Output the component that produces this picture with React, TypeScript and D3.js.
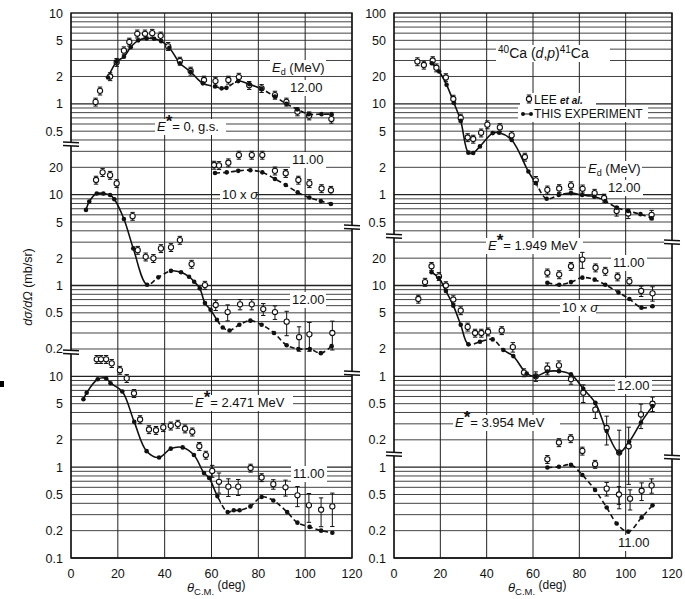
import React from 'react';
import * as d3 from 'd3';

// ---------------- DATA ----------------
// Left panel, top section: E* = 0 (g.s.), Ed = 12.00
const gs12LeeTheta = [10.5, 12.4, 16.7, 19.5, 22.6, 24.9, 28.3, 31.6, 34.7, 38.3, 41.5, 46.5, 51.1, 56.8, 61.7, 67.2, 71.7, 76.1, 81.4, 87.1, 92.0, 96.7, 101.7, 111.2];
const gs12LeeValue = [1.05, 1.39, 2.0, 2.87, 3.85, 4.8, 5.9, 5.9, 6.0, 5.6, 4.3, 2.96, 2.3, 1.83, 1.78, 1.83, 1.97, 1.6, 1.48, 1.25, 1.05, 0.82, 0.74, 0.68];
const gs12LeeErr = [0.1, 0.1, 0.1, 0.1, 0.1, 0.1, 0.1, 0.1, 0.1, 0.1, 0.1, 0.1, 0.1, 0.1, 0.1, 0.1, 0.1, 0.1, 0.1, 0.1, 0.1, 0.1, 0.1, 0.1];
const gs12ExpTheta = [15.8, 19.5, 22.6, 25.5, 28.7, 32.3, 35.5, 38.5, 42.0, 46.5, 51.1, 56.3, 61.5, 64.3, 66.4, 71.4, 76.2, 81.4, 87.1, 92.0, 96.6, 101.6, 107.0, 111.3];
const gs12ExpValue = [1.95, 2.9, 3.3, 4.2, 5.0, 5.25, 5.2, 4.9, 4.15, 2.8, 2.25, 1.68, 1.55, 1.48, 1.5, 1.78, 1.64, 1.46, 1.2, 1.0, 0.87, 0.77, 0.77, 0.77];

// Left panel, middle section: E* = 0, Ed = 11.00 (10 x sigma)
const gs11LeeTheta = [61.1, 63.2, 67.2, 71.7, 77.2, 81.7, 87.1, 91.7, 97.1, 101.8, 107.0, 111.0];
const gs11LeeValue = [21.2, 21.0, 22.5, 27.3, 27.3, 27.3, 18.3, 17.2, 14.5, 13.3, 11.7, 11.2];
const gs11LeeErr = [0.1, 0.1, 0.1, 0.1, 0.1, 0.1, 0.1, 0.1, 0.1, 0.1, 0.1, 0.1];
const gs11ExpTheta = [61.5, 66.5, 71.4, 76.6, 81.7, 87.1, 91.7, 96.8, 101.8, 106.7, 111.0];
const gs11ExpValue = [17.3, 17.6, 18.3, 18.6, 17.6, 14.9, 12.8, 10.6, 9.3, 8.5, 7.9];

// Left panel, middle section: E* = 2.471 MeV, Ed = 12.00
const e2471a12LeeTheta = [10.7, 13.5, 16.7, 19.5, 26.3, 28.5, 31.9, 35.2, 38.4, 42.7, 46.5, 51.5, 57.2, 61.8, 66.9, 72.2, 77.2, 82.1, 87.1, 92.1, 97.4, 101.8, 111.6];
const e2471a12LeeValue = [14.5, 17.6, 16.4, 13.3, 5.8, 2.45, 2.07, 1.99, 2.56, 2.63, 3.16, 1.72, 1.01, 0.61, 0.51, 0.62, 0.62, 0.55, 0.51, 0.40, 0.27, 0.29, 0.30];
const e2471a12LeeErr = [0.1, 0.1, 0.1, 0.1, 0.1, 0.1, 0.1, 0.1, 0.1, 0.1, 0.1, 0.1, 0.1, 0.13, 0.2, 0.13, 0.13, 0.15, 0.17, 0.3, 0.3, 0.35, 0.35];
const e2471a12ExpTheta = [6.4, 7.8, 11.0, 13.8, 16.7, 18.5, 22.6, 26.6, 32.5, 37.3, 42.7, 47.0, 50.4, 52.6, 55.0, 57.2, 59.6, 62.3, 64.8, 67.7, 71.9, 76.6, 81.4, 86.7, 92.1, 97.1, 102.0, 106.7, 111.3];
const e2471a12ExpValue = [6.8, 8.4, 10.3, 10.3, 9.9, 8.9, 5.4, 2.56, 1.02, 1.23, 1.45, 1.4, 1.25, 1.1, 0.93, 0.64, 0.54, 0.42, 0.345, 0.32, 0.37, 0.41, 0.37, 0.30, 0.22, 0.20, 0.20, 0.18, 0.215];

// Left panel, bottom section: E* = 2.471 MeV, Ed = 11.00
const e2471a11LeeTheta = [11.0, 12.8, 15.0, 17.4, 20.9, 23.8, 26.9, 29.5, 33.3, 36.3, 39.4, 42.6, 45.6, 48.7, 51.8, 54.8, 57.6, 60.3, 63.2, 67.2, 71.4, 76.7, 81.4, 86.4, 91.6, 96.7, 101.6, 106.8, 111.6];
const e2471a11LeeValue = [15.4, 15.4, 15.4, 13.9, 11.7, 9.5, 6.5, 3.35, 2.6, 2.55, 2.74, 2.85, 2.98, 2.65, 2.45, 1.7, 1.36, 0.91, 0.69, 0.61, 0.61, 0.98, 0.77, 0.65, 0.60, 0.49, 0.38, 0.34, 0.37];
const e2471a11LeeErr = [0.1, 0.1, 0.1, 0.1, 0.1, 0.1, 0.1, 0.1, 0.1, 0.1, 0.1, 0.1, 0.1, 0.1, 0.1, 0.1, 0.1, 0.15, 0.25, 0.22, 0.2, 0.1, 0.1, 0.12, 0.2, 0.25, 0.35, 0.35, 0.4];
const e2471a11ExpTheta = [5.3, 6.7, 11.4, 15.0, 16.9, 21.9, 27.0, 32.3, 37.6, 42.6, 47.7, 52.5, 56.8, 59.0, 62.5, 66.9, 69.5, 72.0, 76.6, 81.4, 86.4, 92.3, 96.7, 101.9, 106.8, 111.6];
const e2471a11ExpValue = [5.6, 6.6, 9.3, 9.5, 8.4, 6.8, 3.15, 1.5, 1.28, 1.6, 1.65, 1.36, 0.86, 0.76, 0.48, 0.32, 0.335, 0.335, 0.37, 0.47, 0.43, 0.32, 0.245, 0.22, 0.20, 0.19];

// Right panel, top section: E* = 0 (g.s.), Ed = 12.00
const rgs12LeeTheta = [10.1, 12.9, 16.7, 18.3, 22.4, 25.6, 28.8, 31.8, 34.2, 37.6, 40.3, 45.7, 50.8, 56.5, 61.2, 66.2, 71.3, 76.4, 81.4, 86.6, 90.7, 96.1, 101.1, 111.2];
const rgs12LeeValue = [29.2, 26.8, 30.0, 25.0, 19.5, 11.3, 7.0, 4.26, 4.1, 4.8, 5.9, 5.5, 4.5, 2.6, 1.44, 1.13, 1.17, 1.26, 1.16, 1.04, 0.92, 0.66, 0.62, 0.60];
const rgs12LeeErr = [0.1, 0.1, 0.1, 0.1, 0.1, 0.1, 0.1, 0.1, 0.1, 0.1, 0.1, 0.1, 0.1, 0.1, 0.1, 0.1, 0.1, 0.1, 0.1, 0.1, 0.1, 0.12, 0.12, 0.12];
const rgs12ExpTheta = [16.3, 19.5, 22.7, 25.9, 28.8, 32.1, 34.2, 37.1, 42.6, 45.4, 50.8, 58.0, 61.2, 65.9, 71.1, 76.4, 81.2, 86.5, 91.2, 96.1, 101.1, 106.4, 111.2];
const rgs12ExpValue = [28.0, 22.7, 16.2, 10.2, 6.5, 2.9, 2.88, 3.4, 4.76, 4.8, 4.0, 1.8, 1.34, 0.90, 0.99, 1.04, 0.99, 0.95, 0.85, 0.72, 0.66, 0.61, 0.55];

// Right panel, middle section: E* = 1.949 MeV, Ed = 12.00
const e1949a12LeeTheta = [10.5, 13.4, 16.2, 19.4, 22.4, 25.6, 28.8, 31.8, 35.0, 37.7, 40.6, 46.5, 51.3, 56.1, 61.2, 66.2, 71.2, 76.4, 81.7, 86.9, 91.8, 97.2, 101.3, 106.6, 111.6];
const e1949a12LeeValue = [7.1, 10.9, 16.3, 12.6, 10.0, 7.0, 5.3, 3.5, 3.0, 3.0, 3.1, 3.2, 2.1, 1.1, 1.0, 1.22, 1.32, 0.93, 0.66, 0.43, 0.27, 0.145, 0.17, 0.38, 0.50];
const e1949a12LeeErr = [0.1, 0.1, 0.1, 0.1, 0.1, 0.1, 0.1, 0.1, 0.1, 0.1, 0.1, 0.1, 0.12, 0.1, 0.12, 0.15, 0.12, 0.12, 0.22, 0.2, 0.35, 0.76, 0.62, 0.3, 0.18];
const e1949a12ExpTheta = [16.2, 19.4, 22.4, 25.6, 28.8, 32.1, 37.1, 42.6, 47.2, 51.5, 57.3, 61.2, 66.2, 71.2, 76.4, 81.7, 86.9, 91.8, 97.2, 101.5, 106.6, 111.6];
const e1949a12ExpValue = [14.0, 12.1, 8.7, 6.0, 3.7, 2.25, 2.4, 2.55, 1.95, 1.67, 1.07, 1.0, 1.13, 1.14, 1.05, 0.73, 0.51, 0.25, 0.145, 0.19, 0.31, 0.47];

// Right panel, middle section: E* = 1.949 MeV, Ed = 11.00 (10 x sigma)
const e1949a11LeeTheta = [66.2, 71.3, 76.4, 81.3, 87.0, 91.2, 96.5, 101.6, 106.7, 111.6];
const e1949a11LeeValue = [13.8, 13.2, 16.3, 19.3, 15.7, 14.4, 12.5, 11.1, 8.7, 8.2];
const e1949a11LeeErr = [0.1, 0.1, 0.1, 0.2, 0.1, 0.1, 0.1, 0.1, 0.13, 0.18];
const e1949a11ExpTheta = [66.2, 71.3, 76.4, 81.3, 86.6, 91.2, 96.9, 101.6, 106.8, 111.6];
const e1949a11ExpValue = [10.7, 10.2, 10.9, 12.2, 11.6, 10.2, 8.4, 7.1, 5.7, 5.9];

// Right panel, bottom section: E* = 3.954 MeV, Ed = 11.00
const e3954a11LeeTheta = [66.2, 71.2, 76.3, 81.3, 86.8, 91.8, 97.1, 101.9, 106.9, 111.2];
const e3954a11LeeValue = [1.22, 1.87, 2.07, 1.51, 1.08, 0.58, 0.50, 0.45, 0.55, 0.63];
const e3954a11LeeErr = [0.1, 0.1, 0.1, 0.1, 0.1, 0.17, 0.22, 0.25, 0.22, 0.18];
const e3954a11ExpTheta = [66.2, 71.2, 76.4, 81.3, 86.8, 91.8, 96.1, 101.1, 106.9, 111.6];
const e3954a11ExpValue = [0.99, 1.01, 1.06, 0.82, 0.56, 0.36, 0.24, 0.195, 0.28, 0.38];

// Axis tick labels
const xTicks = [0, 20, 40, 60, 80, 100, 120];
const leftTopTicks = [10, 5, 2, 1, 0.5];
const leftMidTicks = [20, 10, 5, 2, 1, 0.5, 0.2];
const leftBotTicks = [10, 5, 2, 1, 0.5, 0.2, 0.1];
const rightTopTicks = [100, 50, 20, 10, 5, 2, 1, 0.5];
const rightMidTicks = [20, 10, 5, 2, 1, 0.5, 0.2];
const rightBotTicks = [1, 0.5, 0.2, 0.1];

// ---------------- LAYOUT ----------------
const FONT = '"Liberation Sans", Arial, sans-serif';
const Y_TOP = 13;
const Y_BOT = 558;

const panels = [
  {
    x0: 71, x1: 352, uMax: 10, uMin: 1e-5, factors: [1, 100, 1e4],
    ticks: [leftTopTicks, leftMidTicks, leftBotTicks],
    breaksL: [144, 352], breaksR: [227, 373], titleX: 187,
  },
  {
    x0: 394, x1: 672, uMax: 100, uMin: 1e-4, factors: [1, 100, 1000],
    ticks: [rightTopTicks, rightMidTicks, rightBotTicks],
    breaksL: [236, 454], breaksR: [242, 457], titleX: 508,
  },
];

const series = [
  { id: 'a', panel: 0, section: 0, lt: gs12LeeTheta, lv: gs12LeeValue, le: gs12LeeErr, et: gs12ExpTheta, ev: gs12ExpValue, dash: [[59, 70], [80, 130]] },
  { id: 'b', panel: 0, section: 1, lt: gs11LeeTheta, lv: gs11LeeValue, le: gs11LeeErr, et: gs11ExpTheta, ev: gs11ExpValue, dash: [[0, 130]] },
  { id: 'c', panel: 0, section: 1, lt: e2471a12LeeTheta, lv: e2471a12LeeValue, le: e2471a12LeeErr, et: e2471a12ExpTheta, ev: e2471a12ExpValue, dash: [[33, 42], [62, 130]] },
  { id: 'd', panel: 0, section: 2, lt: e2471a11LeeTheta, lv: e2471a11LeeValue, le: e2471a11LeeErr, et: e2471a11ExpTheta, ev: e2471a11ExpValue, dash: [[64, 130]] },
  { id: 'e', panel: 1, section: 0, lt: rgs12LeeTheta, lv: rgs12LeeValue, le: rgs12LeeErr, et: rgs12ExpTheta, ev: rgs12ExpValue, dash: [[62, 73], [85, 130]] },
  { id: 'f', panel: 1, section: 1, lt: e1949a12LeeTheta, lv: e1949a12LeeValue, le: e1949a12LeeErr, et: e1949a12ExpTheta, ev: e1949a12ExpValue, dash: [[32, 47]] },
  { id: 'g', panel: 1, section: 1, lt: e1949a11LeeTheta, lv: e1949a11LeeValue, le: e1949a11LeeErr, et: e1949a11ExpTheta, ev: e1949a11ExpValue, dash: [[0, 130]] },
  { id: 'h', panel: 1, section: 2, lt: e3954a11LeeTheta, lv: e3954a11LeeValue, le: e3954a11LeeErr, et: e3954a11ExpTheta, ev: e3954a11ExpValue, dash: [[0, 130]] },
];

function OpenPt({ cx, cy, yTop, yBot }: { cx: number; cy: number; yTop: number; yBot: number }) {
  return (
    <g>
      <line x1={cx} x2={cx} y1={yTop} y2={yBot} stroke="#111" strokeWidth={1} />
      <line x1={cx - 2.2} x2={cx + 2.2} y1={yTop} y2={yTop} stroke="#111" strokeWidth={1} />
      <line x1={cx - 2.2} x2={cx + 2.2} y1={yBot} y2={yBot} stroke="#111" strokeWidth={1} />
      <circle cx={cx} cy={cy} r={2.6} fill="#fff" stroke="#111" strokeWidth={1.1} />
    </g>
  );
}

function BreakMark({ x, y }: { x: number; y: number }) {
  return (
    <g>
      <rect x={x - 8} y={y - 2} width={16} height={4} fill="#fff" />
      <line x1={x - 8} x2={x + 8} y1={y - 2} y2={y - 1.2} stroke="#111" strokeWidth={1.4} />
      <line x1={x - 8} x2={x + 8} y1={y + 1.5} y2={y + 2.3} stroke="#111" strokeWidth={1.4} />
    </g>
  );
}

function Label({ x, y, w, size = 13, children }: { x: number; y: number; w: number; size?: number; children: React.ReactNode }) {
  return (
    <g>
      <rect x={x - 2} y={y - size + 1} width={w + 4} height={size + 3} fill="#fff" />
      <text x={x} y={y} fontSize={size} fontFamily={FONT} fill="#111">{children}</text>
    </g>
  );
}

function Estar({ x, y, w, rest }: { x: number; y: number; w: number; rest: string }) {
  return (
    <Label x={x} y={y} w={w}>
      <tspan fontStyle="italic">E</tspan>
      <tspan dx={0} dy={-4} fontSize={17} fontWeight="bold">*</tspan>
      <tspan dx={0} dy={4}>{rest}</tspan>
    </Label>
  );
}

function Ed({ x, y }: { x: number; y: number }) {
  return (
    <Label x={x} y={y} w={52}>
      <tspan fontStyle="italic">E</tspan>
      <tspan dy={3} fontSize={9}>d</tspan>
      <tspan dy={-3}> (MeV)</tspan>
    </Label>
  );
}

export default function App() {
  const xs = panels.map((p) => d3.scaleLinear().domain([0, 120]).range([p.x0, p.x1]));
  const ys = panels.map((p) => d3.scaleLog().domain([p.uMax, p.uMin]).range([Y_TOP, Y_BOT]));

  const grid = panels.map((p, pi) => {
    const y = ys[pi];
    const lines: { v: number; major: boolean }[] = [];
    const kMin = Math.round(Math.log10(p.uMin));
    const kMax = Math.round(Math.log10(p.uMax));
    for (let k = kMin; k < kMax; k++) {
      for (let m = 1; m <= 9; m++) lines.push({ v: m * Math.pow(10, k), major: m === 1 });
    }
    return (
      <g key={'g' + pi}>
        {lines.map((l, i) => (
          <line key={i} x1={p.x0} x2={p.x1} y1={y(l.v)} y2={y(l.v)} stroke="#222" strokeWidth={l.major ? 1.3 : 0.85} />
        ))}
        {xTicks.map((t) => (
          <line key={'v' + t} x1={xs[pi](t)} x2={xs[pi](t)} y1={Y_TOP} y2={Y_BOT} stroke="#222" strokeWidth={1} />
        ))}
        <rect x={p.x0} y={Y_TOP} width={p.x1 - p.x0} height={Y_BOT - Y_TOP} fill="none" stroke="#111" strokeWidth={1.4} />
      </g>
    );
  });

  const axes = panels.map((p, pi) => {
    const y = ys[pi];
    return (
      <g key={'a' + pi} fontFamily={FONT} fontSize={12.5} fill="#111">
        {p.ticks.map((ts, si) =>
          ts.map((t) => (
            <text key={si + '-' + t} x={p.x0 - 8} y={y(t / p.factors[si])} dy="0.36em" textAnchor="end">
              {String(t)}
            </text>
          ))
        )}
        {xTicks.map((t) => (
          <text key={'x' + t} x={xs[pi](t)} y={578} textAnchor="middle">{t}</text>
        ))}
        <text x={p.titleX} y={592} fontSize={13}>
          <tspan fontStyle="italic">θ</tspan>
          <tspan dy={3} fontSize={9.5}>C.M.</tspan>
          <tspan dy={-6} fontSize={12}> (deg)</tspan>
        </text>
        {p.breaksL.map((b) => <BreakMark key={'bl' + b} x={p.x0} y={b} />)}
        {p.breaksR.map((b) => <BreakMark key={'br' + b} x={p.x1} y={b} />)}
      </g>
    );
  });

  const data = series.map((s) => {
    const p = panels[s.panel];
    const x = xs[s.panel];
    const y = ys[s.panel];
    const f = p.factors[s.section];
    const pts: [number, number][] = s.et.map((t, i) => [x(t), y(s.ev[i] / f)]);
    const path = d3.line().curve(d3.curveCatmullRom.alpha(0.5))(pts) || '';
    const solidRanges: [number, number][] = [];
    let start = -10;
    const sortedDash = [...s.dash].sort((a, b) => a[0] - b[0]);
    sortedDash.forEach(([lo, hi]) => {
      if (lo > start) solidRanges.push([start, lo]);
      start = hi;
    });
    if (start < 130) solidRanges.push([start, 130]);
    return (
      <g key={s.id}>
        <defs>
          <clipPath id={'cs' + s.id}>
            {solidRanges.map(([lo, hi], i) => (
              <rect key={i} x={x(lo)} y={0} width={x(hi) - x(lo)} height={600} />
            ))}
          </clipPath>
          <clipPath id={'cd' + s.id}>
            {sortedDash.map(([lo, hi], i) => (
              <rect key={i} x={x(lo)} y={0} width={x(hi) - x(lo)} height={600} />
            ))}
          </clipPath>
        </defs>
        <path d={path} fill="none" stroke="#111" strokeWidth={1.6} clipPath={`url(#cs${s.id})`} />
        <path d={path} fill="none" stroke="#111" strokeWidth={1.6} strokeDasharray="5,3" clipPath={`url(#cd${s.id})`} />
        {s.lt.map((t, i) => {
          const v = s.lv[i];
          const e = Math.min(s.le[i], 0.95);
          return (
            <OpenPt key={'o' + i} cx={x(t)} cy={y(v / f)} yTop={y((v * (1 + e)) / f)} yBot={y((v * (1 - e)) / f)} />
          );
        })}
        {pts.map(([px, py], i) => (
          <circle key={'f' + i} cx={px} cy={py} r={2.3} fill="#111" />
        ))}
      </g>
    );
  });

  return (
    <svg width={685} height={599} style={{ position: 'absolute', left: 0, top: 0, background: '#fff' }}>
      <rect x={0} y={0} width={685} height={599} fill="#fff" />
      {grid}
      {/* Left panel annotations */}
      <Ed x={272} y={72} />
      <Label x={290} y={92} w={33}>12.00</Label>
      <Estar x={157} y={131} w={67} rest="= 0, g.s." />
      <Label x={292} y={164} w={32}>11.00</Label>
      <Label x={222} y={199} w={32}>10 x <tspan fontStyle="italic">σ</tspan></Label>
      <Label x={292} y={304} w={32}>12.00</Label>
      <Estar x={195} y={407} w={96} rest="= 2.471 MeV" />
      <Label x={293} y={478} w={32}>11.00</Label>
      {/* Right panel annotations */}
      <Label x={498} y={58} w={110} size={14}>
        <tspan dy={-5} fontSize={10}>40</tspan>
        <tspan dy={5}>Ca (</tspan>
        <tspan fontStyle="italic">d</tspan>
        <tspan>,</tspan>
        <tspan fontStyle="italic">p</tspan>
        <tspan>)</tspan>
        <tspan dy={-5} fontSize={10}>41</tspan>
        <tspan dy={5}>Ca</tspan>
      </Label>
      <Label x={522} y={104} w={72} size={12}>
        <tspan dx={12}>LEE </tspan>
        <tspan fontStyle="italic" fontWeight="bold" fontSize={10}>et al.</tspan>
      </Label>
      <Label x={520} y={118} w={126} size={12}>
        <tspan dx={14}>THIS EXPERIMENT</tspan>
      </Label>
      <OpenPt cx={529} cy={99} yTop={95} yBot={103} />
      <circle cx={523} cy={114} r={2} fill="#111" />
      <line x1={523} x2={531} y1={114} y2={114} stroke="#111" strokeWidth={1} />
      <circle cx={531} cy={114} r={2} fill="#111" />
      <Ed x={588} y={173} />
      <Label x={608} y={192} w={33}>12.00</Label>
      <Estar x={488} y={250} w={93} rest="= 1.949 MeV" />
      <Label x={613} y={267} w={32}>11.00</Label>
      <Label x={562} y={312} w={32}>10 x <tspan fontStyle="italic">σ</tspan></Label>
      <Label x={617} y={390} w={33}>12.00</Label>
      <Estar x={455} y={427} w={103} rest="= 3.954 MeV" />
      <Label x={618} y={547} w={32}>11.00</Label>
      {data}
      {axes}
      {/* y-axis title */}
      <text transform="translate(32,287) rotate(-90)" textAnchor="middle" fontFamily={FONT} fontSize={12.5} fill="#111">
        <tspan fontStyle="italic">dσ/dΩ</tspan>
        <tspan> (mb/sr)</tspan>
      </text>
      <rect x={0} y={381} width={4} height={6} fill="#000" />
    </svg>
  );
}
